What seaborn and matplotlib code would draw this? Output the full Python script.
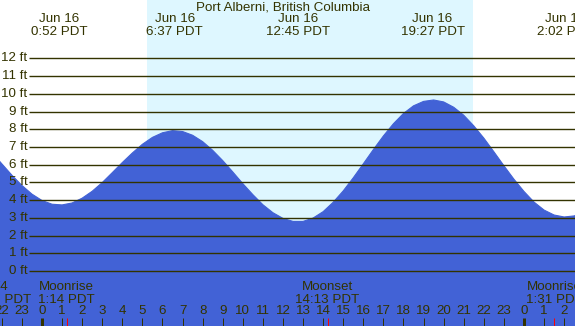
import seaborn as sns
import matplotlib.pyplot as plt
import pandas as pd

# tide heights (ft) every half hour, hours from midnight Jun 16
hours = [-2.5, -2.0, -1.5, -1.0, -0.5, 0.0, 0.5, 1.0, 1.5, 2.0, 2.5, 3.0, 3.5, 4.0,
         4.5, 5.0, 5.5, 6.0, 6.5, 7.0, 7.5, 8.0, 8.5, 9.0, 9.5, 10.0, 10.5, 11.0,
         11.5, 12.0, 12.5, 13.0, 13.5, 14.0, 14.5, 15.0, 15.5, 16.0, 16.5, 17.0,
         17.5, 18.0, 18.5, 19.0, 19.5, 20.0, 20.5, 21.0, 21.5, 22.0, 22.5, 23.0,
         23.5, 24.0, 24.5, 25.0, 25.5, 26.0, 26.5, 27.0]
heights = [6.70, 6.05, 5.41, 4.83, 4.34, 3.98, 3.77, 3.73, 3.84, 4.11, 4.50, 4.99,
           5.55, 6.12, 6.66, 7.15, 7.54, 7.80, 7.92, 7.87, 7.66, 7.30, 6.81, 6.23,
           5.59, 4.93, 4.31, 3.74, 3.29, 2.97, 2.80, 2.80, 2.99, 3.35, 3.88, 4.52,
           5.26, 6.05, 6.85, 7.62, 8.31, 8.89, 9.32, 9.57, 9.65, 9.54, 9.24, 8.79,
           8.19, 7.50, 6.73, 5.94, 5.18, 4.49, 3.89, 3.44, 3.16, 3.05, 3.11, 3.31]

# high / low tide events
event_hours = [0.867, 6.617, 12.75, 19.45, 26.033]
event_labels = ["Jun 16\n0:52 PDT", "Jun 16\n6:37 PDT", "Jun 16\n12:45 PDT",
                "Jun 16\n19:27 PDT", "Jun 17\n2:02 PDT"]

# moon events
moon_hours = [-2.12, 1.233, 14.217, 25.517]
moon_labels = ["1/4\n21:53 PDT", "Moonrise\n1:14 PDT", "Moonset\n14:13 PDT",
               "Moonrise\n1:31 PDT"]

sunrise = 5.23
sunset = 21.46
ft_levels = list(range(0, 13))
hour_ticks = list(range(-2, 27))

df = pd.DataFrame({"hour": hours, "height": heights})

sns.set_theme(style="white")
plt.rcParams['font.family'] = ['Liberation Sans', 'DejaVu Sans']

night = "#b0c4de"
day = "#def7ff"
water = "#4262d6"
ink = "#333300"
fs = 9.6

fig = plt.figure(figsize=(5.75, 3.26), dpi=100)
ax = fig.add_axes([0, 0, 1, 1])
xmin, xmax = -2.09, 26.54
ymin, ymax = -3.10, 15.29
ax.set_xlim(xmin, xmax)
ax.set_ylim(ymin, ymax)
ax.set_facecolor(night)
ax.axvspan(sunrise, sunset, color=day, lw=0, zorder=0)

ax.fill_between(df["hour"], df["height"], ymin, color=water, lw=0, zorder=1)
sns.lineplot(data=df, x="hour", y="height", color=water, lw=0.8, ax=ax, zorder=1)

# height grid lines and labels
ax.hlines(ft_levels, -0.647, xmax, color=ink, lw=1.0, zorder=2)
for f in ft_levels:
    ax.text(-0.72, f, f"{f} ft", ha="right", va="center", fontsize=fs, color=ink)

trans = ax.get_xaxis_transform()
ax.text(12.0, 0.978, "Port Alberni, British Columbia", transform=trans,
        ha="center", va="center", fontsize=fs, color=ink)
for h, lab in zip(event_hours, event_labels):
    ax.text(h, 0.923, lab, transform=trans, ha="center", va="center",
            fontsize=fs, color=ink, linespacing=1.12)

for h, lab in zip(moon_hours, moon_labels):
    ax.text(h, 0.101, lab, transform=trans, ha="center", va="center",
            fontsize=fs, color=ink, linespacing=1.12)

# hour ticks along the bottom
for h in hour_ticks:
    ax.text(h, 0.046, str(h % 24), transform=trans, ha="center", va="center",
            fontsize=fs, color=ink)
    width = 3.0 if h % 24 == 0 else 1.0
    ax.vlines(h, 0, 0.025, transform=trans, color=ink, lw=width * 0.72, zorder=3)
for h in moon_hours[1:]:
    ax.vlines(h, 0, 0.025, transform=trans, color="red", lw=0.72, zorder=3)

ax.set_xlabel("")
ax.set_ylabel("")
ax.axis("off")
fig.savefig("out.png", dpi=100)
